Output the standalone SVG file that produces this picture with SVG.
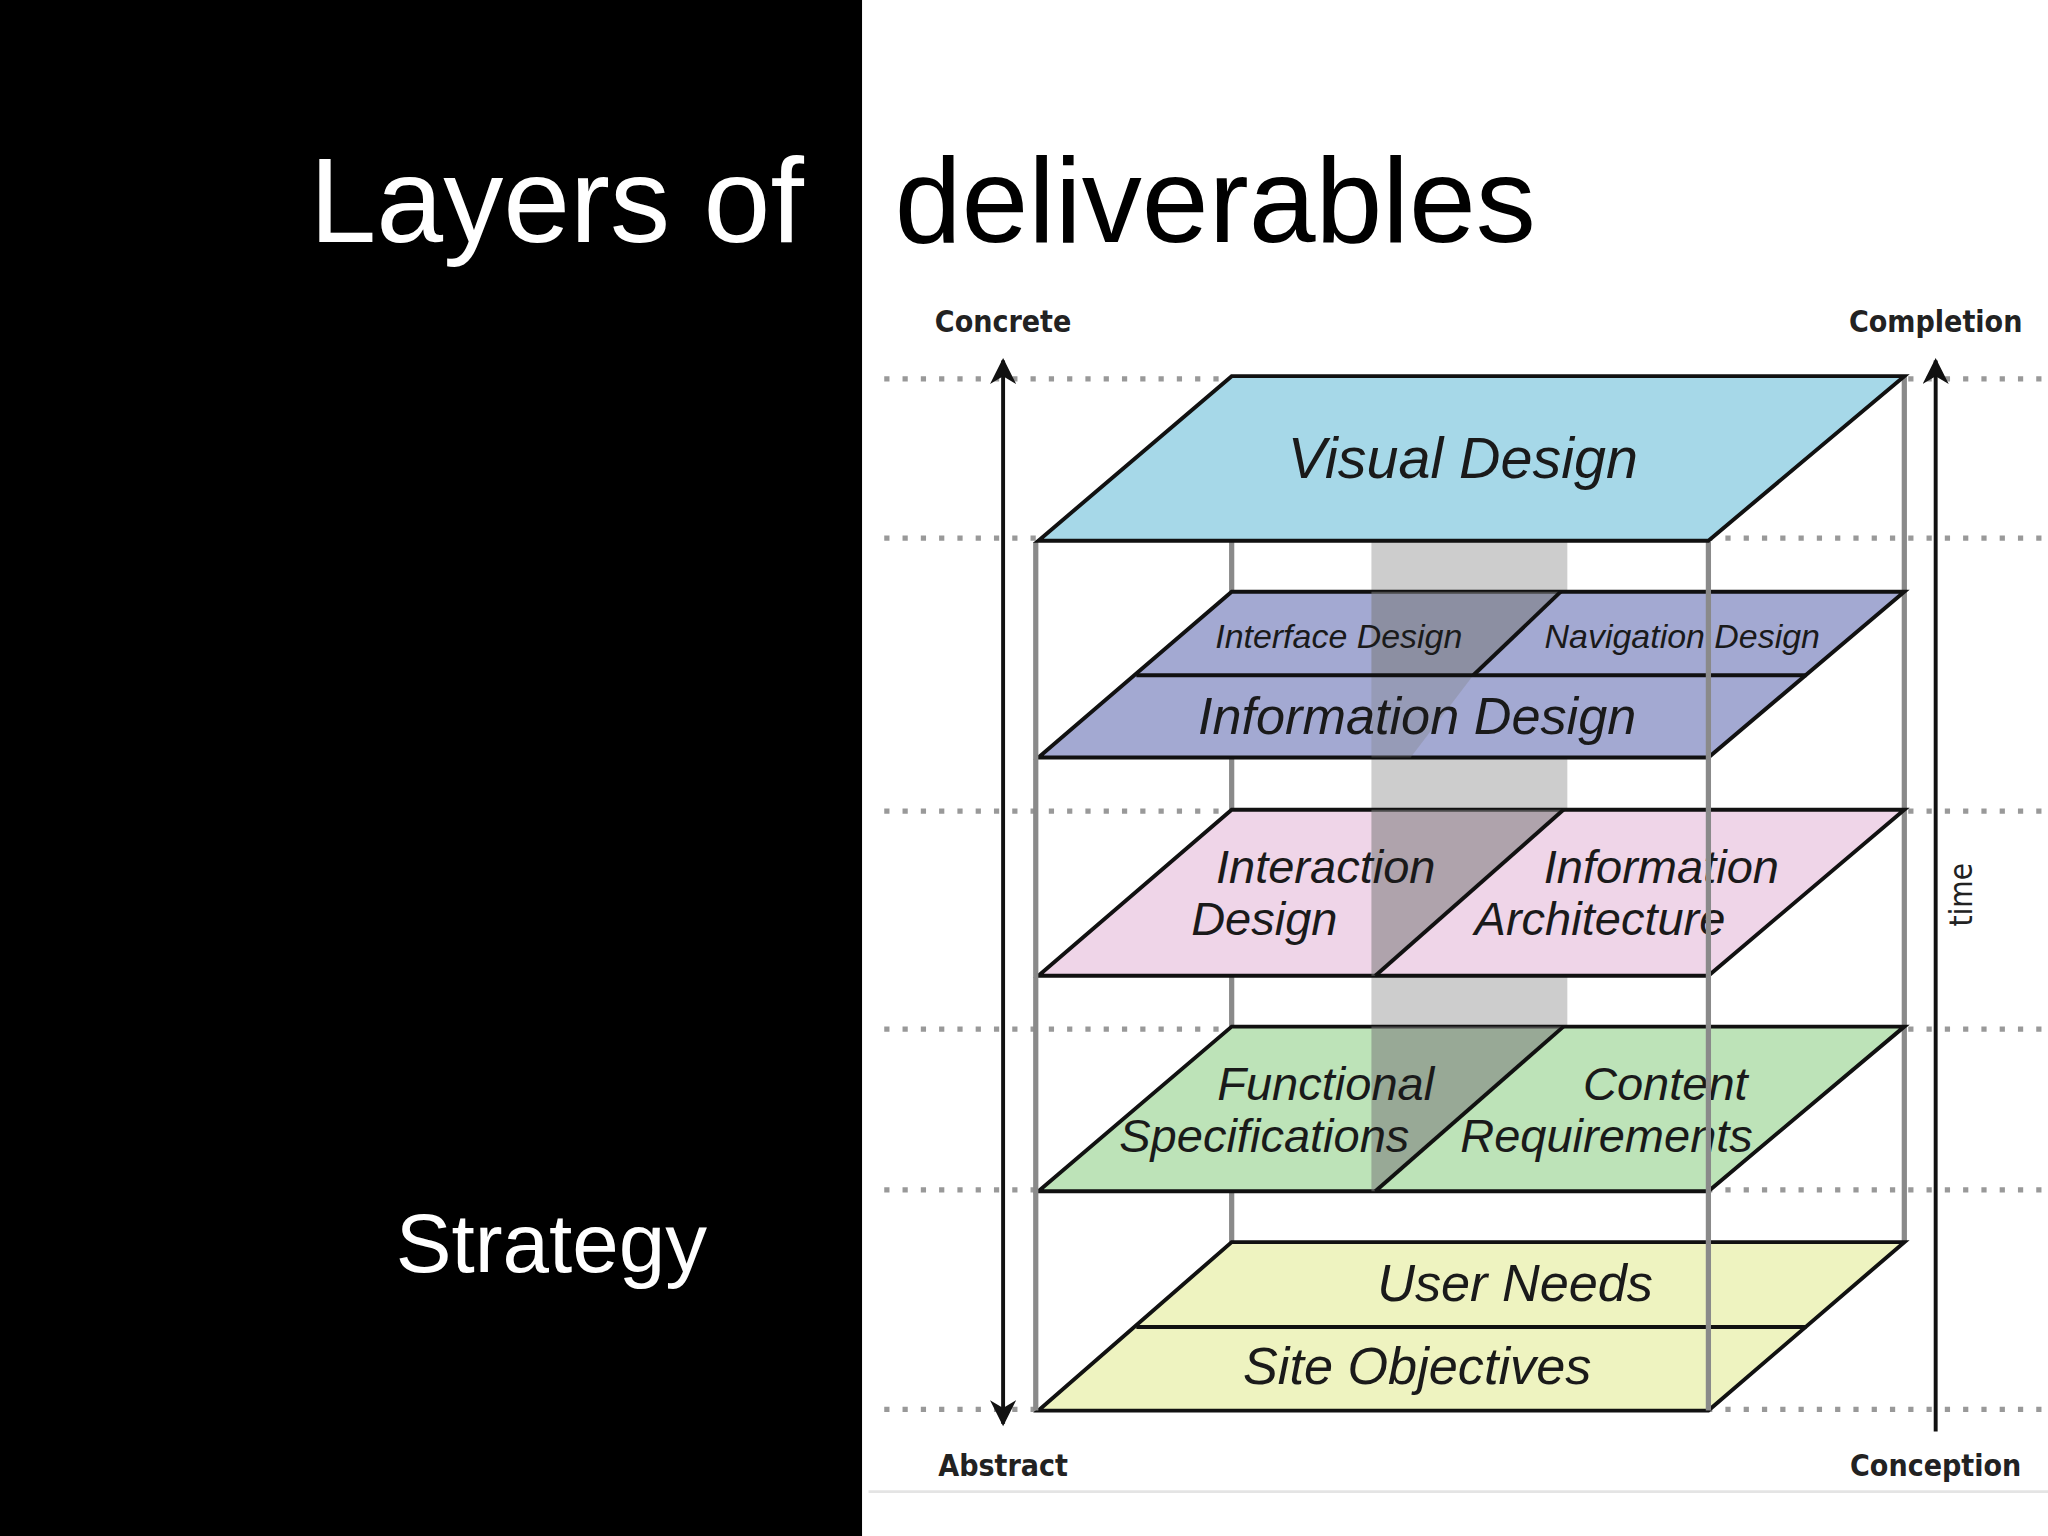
<svg xmlns="http://www.w3.org/2000/svg" width="2048" height="1536" viewBox="0 0 2048 1536">
<style>
.pl{stroke:#111;stroke-width:3;stroke-linejoin:miter}
.lb{font-family:"Liberation Sans",Arial,sans-serif;font-style:italic;fill:#1a1a1a;text-anchor:middle}
.ax{font-family:"DejaVu Sans Condensed","DejaVu Sans",sans-serif;font-weight:bold;font-size:23px;fill:#222;text-anchor:middle}
.dot{stroke:#999;stroke-width:4;stroke-dasharray:4 10}
.post{stroke:#8a8a8a;stroke-width:4}
.dk{fill:#7a7a7a;fill-opacity:0.55}
</style>
<defs>
<marker id="ah" viewBox="0 0 10 10" refX="9" refY="5" markerWidth="8" markerHeight="8" markerUnits="userSpaceOnUse" orient="auto-start-reverse"><path d="M0,0 L10,5 L0,10 z" fill="#111"/></marker>
<marker id="ah2" viewBox="0 0 10 10" refX="9" refY="5" markerWidth="24" markerHeight="20" markerUnits="userSpaceOnUse" orient="auto-start-reverse"><path d="M0,0 L10,5 L0,10 L3,5 z" fill="#111"/></marker>
</defs>
<rect width="2048" height="1536" fill="#fff"/>
<g transform="scale(1.30612)">
<rect x="0" y="0" width="660" height="1176" fill="#000"/>
<line x1="665" y1="1142" x2="1568" y2="1142" stroke="#e4e4e4" stroke-width="2"/>
<g id="title" font-family="Liberation Sans,Arial,sans-serif" font-size="92">
<text x="237" y="185" fill="#fff">Layers of</text>
<text x="685" y="185" fill="#000">deliverables</text>
</g>
<text id="strategy" x="303" y="974" font-family="Liberation Sans,Arial,sans-serif" font-size="64" fill="#fff">Strategy</text>
<g id="grid">
<line class="dot" x1="677" y1="290" x2="1565" y2="290"/>
<line class="dot" x1="677" y1="412" x2="1565" y2="412"/>
<line class="dot" x1="677" y1="621" x2="1565" y2="621"/>
<line class="dot" x1="677" y1="788" x2="1565" y2="788"/>
<line class="dot" x1="677" y1="911" x2="1565" y2="911"/>
<line class="dot" x1="677" y1="1079" x2="1565" y2="1079"/>
</g>
<rect x="1050" y="415" width="150" height="372" fill="#cdcdcd"/>
<g id="posts">
<line class="post" x1="943" y1="290" x2="943" y2="951"/>
<line class="post" x1="1458" y1="288" x2="1458" y2="951"/>
</g>
<g id="axes">
<line x1="768" y1="1090" x2="768" y2="276" stroke="#111" stroke-width="3" marker-end="url(#ah2)" marker-start="url(#ah2)"/>
<line x1="1482" y1="1096" x2="1482" y2="276" stroke="#111" stroke-width="3" marker-end="url(#ah2)"/>
<text class="ax" x="768" y="254">Concrete</text>
<text class="ax" x="1482" y="254">Completion</text>
<text class="ax" x="768" y="1130">Abstract</text>
<text class="ax" x="1482" y="1130">Conception</text>
<text class="ax" font-weight="normal" x="0" y="0" transform="translate(1510,685) rotate(-90)" style="font-weight:normal;font-size:24px">time</text>
</g>
<g id="strategy-plane">
<polygon class="pl" fill="#eef3c0" points="943,951 1458,951 1308,1080 795,1080"/>
<line x1="870" y1="1016" x2="1383" y2="1016" stroke="#111" stroke-width="3"/>
<text class="lb" x="1160" y="996" font-size="40">User Needs</text>
<text class="lb" x="1085" y="1060" font-size="40">Site Objectives</text>
</g>
<g id="scope-plane">
<polygon class="pl" fill="#bde3b8" points="943,786 1458,786 1308,912 795,912"/>
<polygon class="dk" points="1050,786 1197,786 1053,912 1050,912"/>
<line x1="1197" y1="786" x2="1053" y2="912" stroke="#111" stroke-width="3"/>
<text class="lb" x="1015" y="842" font-size="36">Functional</text>
<text class="lb" x="968" y="882" font-size="36">Specifications</text>
<text class="lb" x="1275" y="842" font-size="36">Content</text>
<text class="lb" x="1230" y="882" font-size="36">Requirements</text>
</g>
<g id="structure-plane">
<polygon class="pl" fill="#efd5e8" points="943,620 1458,620 1308,747 795,747"/>
<polygon class="dk" points="1050,620 1197,620 1053,747 1050,747"/>
<line x1="1197" y1="620" x2="1053" y2="747" stroke="#111" stroke-width="3"/>
<text class="lb" x="1015" y="676" font-size="36">Interaction</text>
<text class="lb" x="968" y="716" font-size="36">Design</text>
<text class="lb" x="1272" y="676" font-size="36">Information</text>
<text class="lb" x="1225" y="716" font-size="36">Architecture</text>
</g>
<g id="skeleton-plane">
<polygon class="pl" fill="#a3a9d2" points="943,453 1458,453 1308,580 795,580"/>
<polygon class="dk" points="1050,453 1195,453 1128,517 1050,517"/>
<polygon fill="#7a7a7a" fill-opacity="0.3" points="1050,517 1128,517 1080,580 1050,580"/>
<line x1="870" y1="517" x2="1383" y2="517" stroke="#111" stroke-width="3"/>
<line x1="1195" y1="453" x2="1128" y2="517" stroke="#111" stroke-width="3"/>
<text class="lb" x="1025" y="496" font-size="26">Interface Design</text>
<text class="lb" x="1288" y="496" font-size="26">Navigation Design</text>
<text class="lb" x="1085" y="562" font-size="40">Information Design</text>
</g>
<g id="front-posts">
<line class="post" x1="793" y1="415" x2="793" y2="1080"/>
<line class="post" x1="1308" y1="415" x2="1308" y2="1080"/>
</g>
<g id="surface-plane">
<polygon class="pl" fill="#a6d8e8" points="943,288 1458,288 1308,414 795,414"/>
<text class="lb" x="1120" y="366" font-size="44">Visual Design</text>
</g>
</g>
</svg>
